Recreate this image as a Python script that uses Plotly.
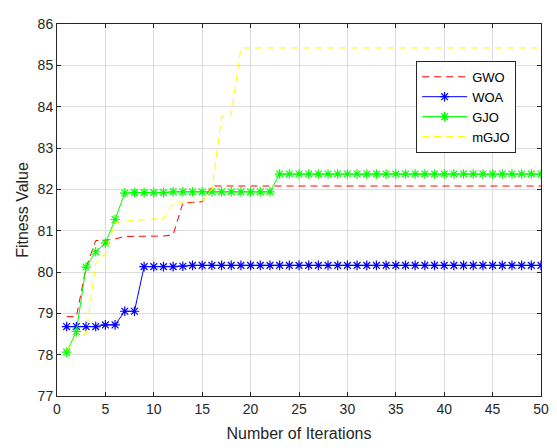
import plotly.graph_objects as go

iterations = list(range(1, 51))

gwo = [78.92, 78.92, 80.10, 80.76, 80.77, 80.80, 80.86, 80.86, 80.86, 80.86,
       80.87, 80.90, 81.67, 81.68, 81.70] + [82.08] * 35

woa = [78.68, 78.68, 78.68, 78.68, 78.72, 78.72, 79.05, 79.05, 80.13, 80.13,
       80.13, 80.13, 80.14] + [80.16] * 37

gjo = [78.06, 78.56, 80.12, 80.49, 80.70, 81.27, 81.91, 81.92, 81.92, 81.92,
       81.92] + [81.94] * 11 + [82.37] * 28

mgjo = [78.08, 78.42, 78.50, 80.20, 80.45, 81.20, 81.23, 81.25, 81.27, 81.28,
        81.30, 81.65, 81.70, 81.70, 81.72, 82.00, 83.75, 83.80] + [85.42] * 32

x_ticks = list(range(0, 51, 5))
y_ticks = list(range(77, 87))

FONT = "Liberation Sans, Arial, sans-serif"
INK = "#262626"

fig = go.Figure()
fig.add_trace(go.Scatter(x=iterations, y=gwo, name="GWO", mode="lines",
                         line=dict(color="#ff0000", width=1, dash="7px,5px")))
fig.add_trace(go.Scatter(x=iterations, y=woa, name="WOA", mode="lines+markers",
                         line=dict(color="#0000ff", width=1),
                         marker=dict(symbol="asterisk-open", size=8,
                                     line=dict(color="#0000ff", width=1.2))))
fig.add_trace(go.Scatter(x=iterations, y=gjo, name="GJO", mode="lines+markers",
                         line=dict(color="#00ff00", width=1),
                         marker=dict(symbol="asterisk-open", size=8,
                                     line=dict(color="#00ff00", width=1.2))))
fig.add_trace(go.Scatter(x=iterations, y=mgjo, name="mGJO", mode="lines",
                         line=dict(color="#ffff00", width=1, dash="7px,5px")))

axis_common = dict(showline=True, linecolor=INK, linewidth=1, mirror="ticks",
                   ticks="inside", ticklen=4, tickcolor=INK,
                   showgrid=True, gridcolor="#dcdcdc", gridwidth=1, zeroline=False,
                   ticklabeloverflow="allow",
                   tickfont=dict(family=FONT, size=14, color=INK))

fig.update_xaxes(range=[0, 50], tickvals=x_ticks,
                 title=dict(text="Number of Iterations", standoff=12,
                            font=dict(family=FONT, size=16, color=INK)),
                 **axis_common)
fig.update_yaxes(range=[77, 86], tickvals=y_ticks,
                 title=dict(text="Fitness Value", standoff=5,
                            font=dict(family=FONT, size=16, color=INK)),
                 **axis_common)

fig.update_layout(
    width=549, height=440,
    margin=dict(l=49, r=9, t=8, b=50),
    paper_bgcolor="white", plot_bgcolor="white",
    showlegend=True,
    legend=dict(x=0.742, y=0.901, xanchor="left", yanchor="top",
                bgcolor="white", bordercolor=INK, borderwidth=1,
                font=dict(family=FONT, size=13, color="#000000"),
                itemwidth=45, tracegroupgap=0),
)

fig.write_html("out.html")
